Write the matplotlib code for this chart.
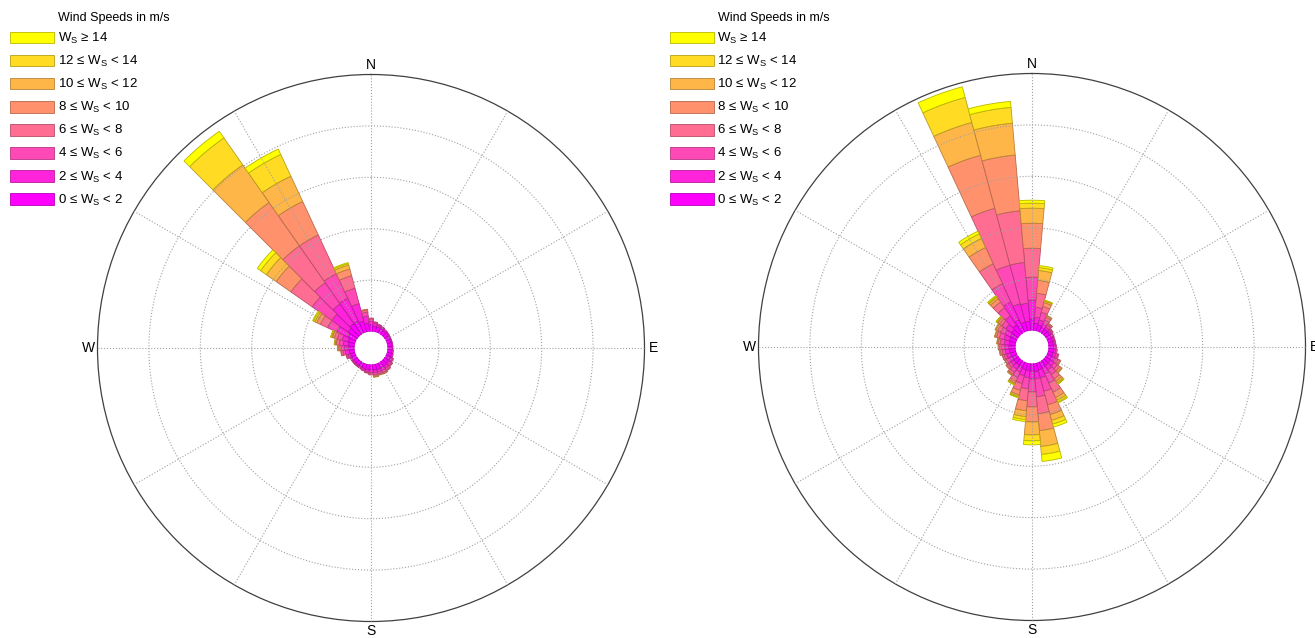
import numpy as np
import matplotlib.pyplot as plt
from matplotlib.patches import Rectangle

plt.rcParams['font.family'] = ['Liberation Sans', 'DejaVu Sans']
plt.rcParams['mathtext.fontset'] = 'custom'
plt.rcParams['mathtext.rm'] = 'Liberation Sans'
plt.rcParams['mathtext.it'] = 'Liberation Sans'

# direction bins (deg, clockwise from north), 10 deg wide
directions = np.arange(0, 360, 10)

speed_labels = ['0 ≤ W$_\\mathrm{S}$ < 2', '2 ≤ W$_\\mathrm{S}$ < 4', '4 ≤ W$_\\mathrm{S}$ < 6',
                '6 ≤ W$_\\mathrm{S}$ < 8', '8 ≤ W$_\\mathrm{S}$ < 10', '10 ≤ W$_\\mathrm{S}$ < 12',
                '12 ≤ W$_\\mathrm{S}$ < 14', 'W$_\\mathrm{S}$ ≥ 14']

# frequency (%) per direction, one list per speed class - station A
a_0_2 = [0.63, 0.53, 0.53, 0.53, 0.49, 0.49, 0.44, 0.44, 0.44, 0.44, 0.44, 0.49,
         0.53, 0.53, 0.58, 0.58, 0.58, 0.58, 0.53, 0.53, 0.49, 0.44, 0.44, 0.44,
         0.44, 0.49, 0.53, 0.58, 0.63, 0.73, 0.92, 1.12, 1.31, 1.31, 1.12, 0.83]
a_2_4 = [0.39, 0.29, 0.19, 0.15, 0.15, 0.10, 0.10, 0.10, 0.10, 0.10, 0.15, 0.15,
         0.19, 0.24, 0.24, 0.29, 0.24, 0.24, 0.24, 0.19, 0.15, 0.15, 0.15, 0.15,
         0.15, 0.24, 0.39, 0.44, 0.49, 0.58, 1.17, 1.94, 2.33, 2.43, 1.75, 0.68]
a_4_6 = [0.19, 0.10, 0.10, 0.05, 0, 0, 0, 0, 0, 0, 0, 0,
         0.10, 0.15, 0.19, 0.19, 0.19, 0.19, 0.15, 0.10, 0.10, 0.05, 0.05, 0.05,
         0.05, 0.15, 0.24, 0.29, 0.39, 0.49, 0.97, 2.33, 2.52, 2.62, 1.55, 0.39]
a_6_8 = [0.10, 0.05, 0, 0, 0, 0, 0, 0, 0, 0, 0, 0,
         0, 0.05, 0.10, 0.10, 0.10, 0.15, 0.10, 0.05, 0, 0, 0, 0,
         0, 0.05, 0.15, 0.19, 0.29, 0.29, 0.78, 2.52, 4.37, 4.17, 1.26, 0.19]
a_8_10 = [0, 0, 0, 0, 0, 0, 0, 0, 0, 0, 0, 0,
          0, 0, 0, 0.05, 0.05, 0.05, 0, 0, 0, 0, 0, 0,
          0, 0, 0.05, 0.10, 0.10, 0.19, 0.39, 1.75, 5.15, 3.59, 0.68, 0.10]
a_10_12 = [0, 0, 0, 0, 0, 0, 0, 0, 0, 0, 0, 0,
           0, 0, 0, 0, 0, 0.05, 0, 0, 0, 0, 0, 0,
           0, 0, 0, 0.05, 0.05, 0.10, 0.19, 1.17, 4.47, 2.72, 0.39, 0]
a_12_14 = [0, 0, 0, 0, 0, 0, 0, 0, 0, 0, 0, 0,
           0, 0, 0, 0, 0, 0, 0, 0, 0, 0, 0, 0,
           0, 0, 0, 0, 0.05, 0.05, 0.15, 0.68, 3.20, 2.33, 0.15, 0]
a_14 = [0, 0, 0, 0, 0, 0, 0, 0, 0, 0, 0, 0,
        0, 0, 0, 0, 0, 0, 0, 0, 0, 0, 0, 0,
        0, 0, 0, 0, 0, 0.05, 0.10, 0.39, 0.78, 0.58, 0.10, 0]

# station B
b_0_2 = [1.12, 0.73, 0.63, 0.58, 0.53, 0.53, 0.49, 0.49, 0.49, 0.49, 0.53, 0.53,
         0.58, 0.58, 0.63, 0.68, 0.73, 0.83, 0.73, 0.73, 0.68, 0.63, 0.58, 0.58,
         0.58, 0.58, 0.63, 0.63, 0.63, 0.68, 0.73, 0.83, 1.02, 1.31, 0.92, 0.92]
b_2_4 = [1.84, 0.58, 0.49, 0.34, 0.24, 0.19, 0.19, 0.15, 0.15, 0.19, 0.19, 0.29,
         0.34, 0.44, 0.49, 0.63, 0.78, 0.68, 0.78, 0.68, 0.63, 0.49, 0.44, 0.34,
         0.34, 0.39, 0.39, 0.44, 0.49, 0.53, 0.58, 0.68, 1.07, 1.94, 1.84, 1.75]
b_4_6 = [2.23, 0.97, 0.78, 0.39, 0.24, 0.15, 0.10, 0.10, 0.10, 0.10, 0.15, 0.19,
         0.29, 0.39, 0.58, 0.97, 1.36, 1.75, 1.26, 1.07, 0.78, 0.58, 0.39, 0.29,
         0.24, 0.24, 0.29, 0.34, 0.39, 0.49, 0.49, 0.49, 0.97, 1.94, 3.88, 3.98]
b_6_8 = [2.82, 1.36, 0.58, 0.29, 0.15, 0.05, 0, 0, 0, 0, 0, 0.10,
         0.19, 0.29, 0.49, 0.97, 1.36, 1.65, 1.46, 1.17, 0.68, 0.39, 0.24, 0.19,
         0.15, 0.15, 0.19, 0.19, 0.19, 0.29, 0.29, 0.29, 0.68, 2.14, 5.73, 5.05]
b_8_10 = [2.43, 1.26, 0.39, 0.15, 0.05, 0, 0, 0, 0, 0, 0, 0,
          0.10, 0.19, 0.29, 0.58, 0.97, 1.65, 1.46, 0.97, 0.44, 0.19, 0.10, 0.10,
          0.05, 0.05, 0.10, 0.10, 0.10, 0.15, 0.19, 0.19, 0.39, 1.75, 5.34, 5.44]
b_10_12 = [1.46, 0.97, 0.15, 0.05, 0, 0, 0, 0, 0, 0, 0, 0,
           0, 0.10, 0.19, 0.29, 0.58, 1.55, 1.26, 0.58, 0.15, 0.10, 0.05, 0,
           0, 0, 0, 0, 0.05, 0.05, 0.10, 0.10, 0.19, 0.97, 3.30, 3.11]
b_12_14 = [0.49, 0.29, 0.05, 0, 0, 0, 0, 0, 0, 0, 0, 0,
           0, 0, 0.10, 0.19, 0.39, 0.78, 0.58, 0.29, 0.10, 0.05, 0, 0,
           0, 0, 0, 0, 0, 0, 0, 0.05, 0.10, 0.49, 2.52, 1.55]
b_14 = [0.29, 0.19, 0.05, 0, 0, 0, 0, 0, 0, 0, 0, 0,
        0, 0, 0.05, 0.10, 0.29, 0.68, 0.39, 0.19, 0.05, 0.05, 0, 0,
        0, 0, 0, 0, 0, 0, 0, 0.05, 0.10, 0.29, 1.07, 0.58]

station_a = [a_0_2, a_2_4, a_4_6, a_6_8, a_8_10, a_10_12, a_12_14, a_14]
station_b = [b_0_2, b_2_4, b_4_6, b_6_8, b_8_10, b_10_12, b_12_14, b_14]

# spring colormap, magenta -> yellow
colors = plt.cm.spring(np.linspace(0, 1, 8))
edges = [tuple(np.r_[c[:3] * 0.72, 1.0]) for c in colors]

W, H = 1315, 638
fig = plt.figure(figsize=(W / 100, H / 100), dpi=100)


def rose(cx, cy, data):
    R = 273.5
    ax = fig.add_axes([(cx - R) / W, (H - cy - R) / H, 2 * R / W, 2 * R / H],
                      projection='polar')
    ax.set_theta_zero_location('N')
    ax.set_theta_direction(-1)
    theta = np.deg2rad(directions)
    bottom = np.zeros(len(directions))
    for k, vals in enumerate(data):
        vals = np.array(vals)
        m = vals > 0
        ax.bar(theta[m], vals[m], width=np.deg2rad(10), bottom=bottom[m],
               color=colors[k], edgecolor=edges[k], linewidth=0.6, zorder=1)
        bottom += vals
    ax.set_rorigin(-1.6)
    ax.set_ylim(0, 25)
    ax.set_yticks([5, 10, 15, 20])
    ax.set_yticklabels([])
    ax.set_xticks(np.deg2rad(np.arange(0, 360, 30)))
    ax.set_xticklabels(['N', '', '', 'E', '', '', 'S', '', '', 'W', '', ''], fontsize=10)
    ax.tick_params(axis='x', pad=-4)
    ax.grid(True, color='#a0a0a0', linestyle=':', linewidth=0.8)
    ax.set_axisbelow(False)
    ax.spines['polar'].set_color('#404040')
    ax.spines['polar'].set_linewidth(0.9)
    # no ring around the centre hole
    ax.spines['inner'].set_color('none')
    ax.spines['inner'].set_linewidth(0)
    return ax


def key(x0):
    # legend: largest class on top
    fig.text((x0 + 48) / W, 1 - 21.5 / H, 'Wind Speeds in m/s', fontsize=9,
             ha='left', va='baseline')
    for i in range(8):
        k = 7 - i
        yc = 37.5 + 23.07 * i
        fig.add_artist(Rectangle((x0 / W, 1 - (yc + 5.8) / H), 44 / W, 11.6 / H,
                                 transform=fig.transFigure, facecolor=colors[k],
                                 edgecolor=edges[k], linewidth=0.6))
        fig.text((x0 + 47.5) / W, 1 - (yc + 4.5) / H, speed_labels[k], fontsize=9.5,
                 ha='left', va='baseline')


rose(371, 348, station_a)
rose(1032, 347, station_b)
key(10)
key(670)

fig.savefig('out.png', dpi=100)
